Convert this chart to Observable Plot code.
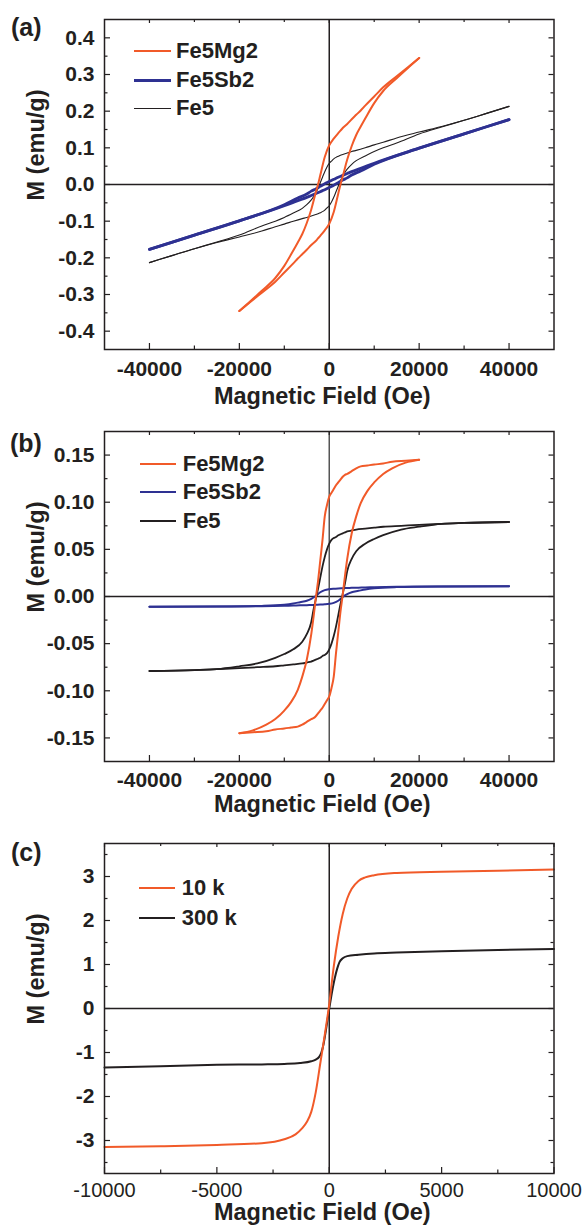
<!DOCTYPE html>
<html><head><meta charset="utf-8">
<script src="https://cdn.jsdelivr.net/npm/d3@7"></script>
<script src="https://cdn.jsdelivr.net/npm/@observablehq/plot@0.6"></script>
<style>
body{margin:0;background:#fff;}
#root{position:relative;width:585px;height:1226px;overflow:hidden;font-family:"Liberation Sans",Arial,sans-serif;color:#231f20;}
.panel{position:absolute;left:0;}
.plabel{position:absolute;font-weight:bold;font-size:25px;line-height:25px;}
.lline{position:absolute;}
.ltext{position:absolute;font-weight:bold;font-size:22px;line-height:22px;white-space:nowrap;}
</style></head>
<body><div id="root"></div>
<script>
// ---------- colours ----------
const ORANGE = "#F15A29", BLUE = "#2E3192", BLACK = "#231F20";

// ---------- panel (a): wide-field M-H loops ----------
const aMg2_H     = [-20000,-17500,-15000,-12000,-10000,-8000,-7000,-6000,-5000,-4000,-3000,-2500,-2000,-1000,0,1000,2000,2500,3000,4000,5000,6000,7000,8000,10000,12000,15000,17500,20000];
const aMg2_upper = [-0.345,-0.318,-0.29,-0.255,-0.222,-0.18,-0.158,-0.135,-0.105,-0.068,-0.022,0.0,0.025,0.075,0.107,0.125,0.14,0.147,0.154,0.165,0.178,0.19,0.202,0.215,0.24,0.265,0.295,0.32,0.345];
const aMg2_lower = [-0.345,-0.32,-0.295,-0.265,-0.24,-0.215,-0.202,-0.19,-0.178,-0.165,-0.154,-0.147,-0.14,-0.125,-0.107,-0.075,-0.025,0.0,0.022,0.068,0.105,0.135,0.158,0.18,0.222,0.255,0.29,0.318,0.345];

const aSb2_H     = [-40000,-30000,-20000,-10000,-7000,-5000,-4000,-3000,-2000,-1000,0,1000,2000,3000,4000,5000,7000,10000,20000,30000,40000];
const aSb2_upper = [-0.177,-0.138,-0.099,-0.055,-0.037,-0.026,-0.018,-0.012,-0.005,0.002,0.008,0.014,0.02,0.025,0.03,0.035,0.044,0.058,0.099,0.138,0.177];
const aSb2_lower = [-0.177,-0.138,-0.099,-0.058,-0.044,-0.035,-0.03,-0.025,-0.02,-0.014,-0.008,-0.002,0.005,0.012,0.018,0.026,0.037,0.055,0.099,0.138,0.177];

const aFe5_H     = [-40000,-35000,-30000,-25000,-20000,-15000,-12000,-10000,-8000,-6000,-5000,-4000,-3000,-2500,-2000,-1500,-1000,-500,0,500,1000,1500,2000,2500,3000,4000,5000,6000,8000,10000,12000,15000,20000,25000,30000,35000,40000];
const aFe5_upper = [-0.213,-0.194,-0.175,-0.157,-0.138,-0.113,-0.1,-0.09,-0.078,-0.065,-0.055,-0.042,-0.024,-0.01,0.005,0.02,0.035,0.048,0.058,0.064,0.07,0.074,0.077,0.08,0.082,0.086,0.09,0.093,0.1,0.108,0.115,0.127,0.143,0.158,0.175,0.194,0.213];
const aFe5_lower = [-0.213,-0.194,-0.175,-0.158,-0.143,-0.127,-0.115,-0.108,-0.1,-0.093,-0.09,-0.086,-0.082,-0.08,-0.077,-0.074,-0.07,-0.064,-0.058,-0.048,-0.035,-0.02,-0.005,0.01,0.024,0.042,0.055,0.065,0.078,0.09,0.1,0.113,0.138,0.157,0.175,0.194,0.213];

// ---------- panel (b): M-H loops after subtraction ----------
const bMg2_H     = [-20000,-17000,-14000,-12000,-10000,-8500,-7000,-6000,-5000,-4000,-3500,-3000,-2500,-2000,-1500,-1000,-500,0,500,1000,1500,2000,2500,3000,3500,4000,5000,6000,7000,8500,10000,12000,14000,17000,20000];
const bMg2_upper = [-0.145,-0.142,-0.136,-0.13,-0.121,-0.112,-0.099,-0.085,-0.067,-0.04,-0.022,-0.002,0.016,0.038,0.06,0.085,0.097,0.106,0.11,0.114,0.118,0.121,0.124,0.127,0.129,0.13,0.133,0.136,0.138,0.139,0.14,0.141,0.143,0.144,0.145];
const bMg2_lower = [-0.145,-0.144,-0.143,-0.141,-0.14,-0.139,-0.138,-0.136,-0.133,-0.13,-0.129,-0.127,-0.124,-0.121,-0.118,-0.114,-0.11,-0.106,-0.097,-0.085,-0.06,-0.038,-0.016,0.002,0.022,0.04,0.067,0.085,0.099,0.112,0.121,0.13,0.136,0.142,0.145];

const bSb2_H     = [-40000,-25000,-15000,-10000,-8000,-6500,-5000,-4000,-3000,-2000,-1000,0,1000,2000,3000,4000,5000,6500,8000,10000,15000,25000,40000];
const bSb2_upper = [-0.011,-0.0107,-0.01,-0.0088,-0.0075,-0.006,-0.0045,-0.0025,0.0005,0.0045,0.0068,0.0078,0.0083,0.0086,0.0088,0.009,0.0092,0.0094,0.0096,0.0098,0.0103,0.0107,0.011];
const bSb2_lower = [-0.011,-0.0107,-0.0103,-0.0098,-0.0096,-0.0094,-0.0092,-0.009,-0.0088,-0.0086,-0.0083,-0.0078,-0.0068,-0.0045,-0.0005,0.0025,0.0045,0.006,0.0075,0.0088,0.01,0.0107,0.011];

const bFe5_H     = [-40000,-30000,-25000,-20000,-16000,-12000,-10000,-8000,-6000,-5000,-4000,-3500,-3000,-2500,-2000,-1500,-1000,-500,0,500,1000,1500,2000,2500,3000,3500,4000,5000,6000,8000,10000,12000,16000,20000,25000,30000,40000];
const bFe5_upper = [-0.079,-0.078,-0.077,-0.074,-0.071,-0.065,-0.061,-0.056,-0.048,-0.04,-0.027,-0.014,-0.003,0.008,0.02,0.032,0.042,0.05,0.056,0.06,0.062,0.063,0.065,0.066,0.067,0.068,0.069,0.07,0.071,0.072,0.073,0.074,0.075,0.076,0.077,0.078,0.079];
const bFe5_lower = [-0.079,-0.078,-0.077,-0.076,-0.075,-0.074,-0.073,-0.072,-0.071,-0.07,-0.069,-0.068,-0.067,-0.066,-0.065,-0.063,-0.062,-0.06,-0.056,-0.05,-0.042,-0.032,-0.02,-0.008,0.003,0.014,0.027,0.04,0.048,0.056,0.061,0.065,0.071,0.074,0.077,0.078,0.079];

// ---------- panel (c): 10 K and 300 K ----------
const c10_H  = [-10000,-7500,-5000,-3000,-2000,-1500,-1200,-1000,-800,-600,-400,-200,0,200,400,600,800,1000,1300,1600,2000,3000,5000,7500,10000];
const c10_M  = [-3.15,-3.13,-3.1,-3.06,-2.97,-2.86,-2.72,-2.58,-2.35,-1.9,-1.25,-0.6,0.1,0.95,1.63,2.15,2.5,2.72,2.9,2.98,3.03,3.08,3.11,3.13,3.16];
const c300_H = [-10000,-7500,-5000,-3000,-2000,-1300,-800,-600,-450,-350,-250,-150,0,150,250,350,450,600,800,1300,2000,3000,5000,7500,10000];
const c300_M = [-1.34,-1.31,-1.28,-1.27,-1.26,-1.24,-1.2,-1.16,-1.1,-1.0,-0.8,-0.5,0.0,0.45,0.7,0.9,1.05,1.14,1.19,1.22,1.25,1.27,1.3,1.33,1.35];

// ---------- ticks and labels ----------
const abX_major = [-40000,-20000,0,20000,40000];
const abX_minor = [-30000,-10000,10000,30000];
const aY_major = [-0.4,-0.3,-0.2,-0.1,0,0.1,0.2,0.3,0.4];
const aY_minor = [-0.35,-0.25,-0.15,-0.05,0.05,0.15,0.25,0.35];
const bY_major = [-0.15,-0.1,-0.05,0,0.05,0.1,0.15];
const bY_minor = [-0.125,-0.075,-0.025,0.025,0.075,0.125];
const cX_major = [-10000,-5000,0,5000,10000];
const cX_minor = [-7500,-2500,2500,7500];
const cY_major = [-3,-2,-1,0,1,2,3];
const cY_minor = [-3.5,-2.5,-1.5,-0.5,0.5,1.5,2.5,3.5];

const xTitle = "Magnetic Field (Oe)";
const yTitle = "M (emu/g)";
const panelLabels = ["(a)","(b)","(c)"];
const abNames = ["Fe5Mg2","Fe5Sb2","Fe5"];
const cNames = ["10 k","300 k"];

function loop(H, up, lo){
  const r = [];
  H.forEach((h,i)=>{ r.push({H:h, M:up[i], b:"up"}); });
  H.forEach((h,i)=>{ r.push({H:h, M:lo[i], b:"lo"}); });
  return r;
}
function single(H, M){ return H.map((h,i)=>({H:h, M:M[i], b:"s"})); }

const FONT = "'Liberation Sans', Arial, Helvetica, sans-serif";
const FW = 449.5, FH = 330;

function panel(o){
  const height = o.height;
  const mt = 19, mb = height - mt - FH;
  const marks = [
    Plot.ruleY([0], {stroke: BLACK, strokeWidth: 1.5}),
    Plot.ruleX([0], {stroke: o.vzColor || BLACK, strokeWidth: 1.5}),
    ...o.lines.map(l => Plot.line(l.rows, {x:"H", y:"M", z:"b", stroke:l.color, strokeWidth:l.w, curve:"monotone-x"})),
    Plot.frame({stroke: BLACK, strokeWidth: 1.5}),
    Plot.tickX(o.xMajor, {x:d=>d, insetTop: FH-6, stroke: BLACK, strokeWidth: 1.2}),
    Plot.tickX(o.xMajor, {x:d=>d, insetBottom: FH-4, stroke: BLACK, strokeWidth: 1.2}),
    Plot.tickX(o.xMinor, {x:d=>d, insetTop: FH-3.5, stroke: BLACK, strokeWidth: 1.2}),
    Plot.tickX(o.xMinor, {x:d=>d, insetBottom: FH-3, stroke: BLACK, strokeWidth: 1.2}),
    Plot.tickY(o.yMajor, {y:d=>d, insetRight: FW-6, stroke: BLACK, strokeWidth: 1.2}),
    Plot.tickY(o.yMajor, {y:d=>d, insetLeft: FW-5, stroke: BLACK, strokeWidth: 1.2}),
    Plot.tickY(o.yMinor, {y:d=>d, insetRight: FW-3.5, stroke: BLACK, strokeWidth: 1.2}),
    Plot.tickY(o.yMinor, {y:d=>d, insetLeft: FW-3, stroke: BLACK, strokeWidth: 1.2}),
    Plot.axisX(o.xMajor, {tickSize:0, tickPadding: o.xPad, tickFormat: o.xFmt, fontSize: o.xSize, fontWeight: o.xWeight, label: null, fill: BLACK}),
    Plot.axisY(o.yMajor, {tickSize:0, tickPadding: 10, tickFormat: o.yFmt, fontSize: 21, fontWeight: "bold", label: null, fill: BLACK}),
    Plot.text([xTitle], {frameAnchor:"bottom", dx: -7, dy: o.titleDy, fontSize: 23.5, fontWeight:"bold", fill: BLACK}),
    Plot.text([yTitle], {frameAnchor:"left", dx: -68, dy: 16, rotate: -90, fontSize: 23.5, fontWeight:"bold", fill: BLACK})
  ];
  return Plot.plot({
    width: 585, height,
    marginLeft: 104, marginRight: 585-104-FW, marginTop: mt, marginBottom: mb,
    x: {domain: o.xDomain, label: null},
    y: {domain: o.yDomain, label: null},
    style: {fontFamily: FONT, color: BLACK, background: "transparent", overflow: "visible"},
    marks
  });
}

const root = document.getElementById("root");
function place(node, top){
  const d = document.createElement("div"); d.className = "panel"; d.style.top = top + "px";
  d.appendChild(node); root.appendChild(d);
}
function label(txt, left, top){
  const s = document.createElement("div"); s.className = "plabel"; s.textContent = txt;
  s.style.left = left + "px"; s.style.top = top + "px"; root.appendChild(s);
}
function legend(items, x0, x1, tx, ys){
  items.forEach((it, i) => {
    const l = document.createElement("div"); l.className = "lline";
    l.style.left = x0 + "px"; l.style.width = (x1 - x0) + "px";
    l.style.top = (ys[i] - it.w/2) + "px"; l.style.height = it.w + "px"; l.style.background = it.color;
    root.appendChild(l);
    const t = document.createElement("div"); t.className = "ltext"; t.textContent = it.name;
    t.style.left = tx + "px"; t.style.top = (ys[i] - 11) + "px";
    root.appendChild(t);
  });
}

const fmtInt = d => String(d);

// panel (a)
place(panel({
  height: 410, xDomain: [-50000, 50000], yDomain: [-0.45, 0.45],
  xMajor: abX_major, xMinor: abX_minor, yMajor: aY_major, yMinor: aY_minor,
  xFmt: fmtInt, yFmt: d => d.toFixed(1), xWeight: "bold", xSize: 21, xPad: 11.5, titleDy: 54,
  lines: [
    {rows: loop(aFe5_H, aFe5_upper, aFe5_lower), color: BLACK, w: 1.1},
    {rows: loop(aSb2_H, aSb2_upper, aSb2_lower), color: BLUE, w: 2.8},
    {rows: loop(aMg2_H, aMg2_upper, aMg2_lower), color: ORANGE, w: 2}
  ]
}), 0);

// panel (b)
place(panel({
  height: 410, xDomain: [-50000, 50000], yDomain: [-0.175, 0.175],
  xMajor: abX_major, xMinor: abX_minor, yMajor: bY_major, yMinor: bY_minor,
  xFmt: fmtInt, yFmt: d => d.toFixed(2), xWeight: "bold", xSize: 21, xPad: 11, titleDy: 50.5, vzColor: "#555",
  lines: [
    {rows: loop(bSb2_H, bSb2_upper, bSb2_lower), color: BLUE, w: 2},
    {rows: loop(bFe5_H, bFe5_upper, bFe5_lower), color: BLACK, w: 1.8},
    {rows: loop(bMg2_H, bMg2_upper, bMg2_lower), color: ORANGE, w: 2}
  ]
}), 412);

// panel (c)
place(panel({
  height: 402, xDomain: [-10000, 10000], yDomain: [-3.75, 3.75],
  xMajor: cX_major, xMinor: cX_minor, yMajor: cY_major, yMinor: cY_minor,
  xFmt: fmtInt, yFmt: fmtInt, xWeight: "normal", xSize: 20, xPad: 9.5, titleDy: 46.5,
  lines: [
    {rows: single(c300_H, c300_M), color: BLACK, w: 2},
    {rows: single(c10_H, c10_M), color: ORANGE, w: 2}
  ]
}), 824);

// panel labels
label(panelLabels[0], 11, 15);
label(panelLabels[1], 10, 431);
label(panelLabels[2], 11, 840);

// legends
legend([{name: abNames[0], color: ORANGE, w: 2.2},{name: abNames[1], color: BLUE, w: 3},{name: abNames[2], color: BLACK, w: 1.2}],
  134, 171, 176, [50.7, 80, 108.3]);
legend([{name: abNames[0], color: ORANGE, w: 2},{name: abNames[1], color: BLUE, w: 2},{name: abNames[2], color: BLACK, w: 2}],
  140, 176, 182.7, [463.7, 492.3, 520.7]);
legend([{name: cNames[0], color: ORANGE, w: 2},{name: cNames[1], color: BLACK, w: 2}],
  139.3, 175, 181.7, [888.3, 917.7]);
</script></body></html>
